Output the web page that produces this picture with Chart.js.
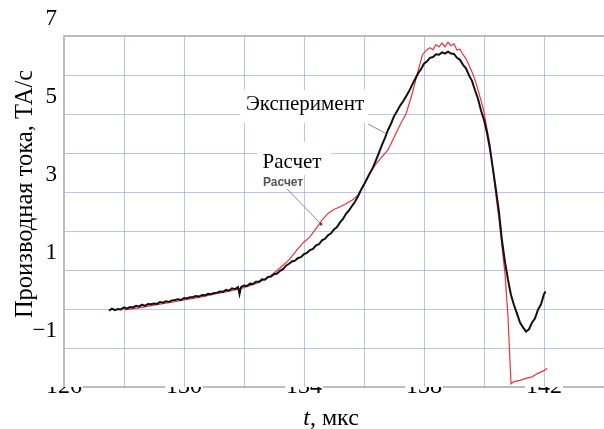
<!DOCTYPE html>
<html>
<head>
<meta charset="utf-8">
<script src="https://cdn.jsdelivr.net/npm/chart.js@4.4.1/dist/chart.umd.min.js"></script>
<style>
  html, body { margin: 0; padding: 0; background: #fff; }
  #wrap { width: 604px; height: 429px; }
</style>
</head>
<body>
<div id="wrap"><canvas id="graf"></canvas></div>
<script>
// Эксперимент (t, мкс / ТА/с)
const expTime = [127.5, 127.6, 127.7, 127.8, 127.9, 128.0, 128.1, 128.2, 128.3, 128.4,
    128.5, 128.6, 128.7, 128.8, 128.9, 129.0, 129.1, 129.2, 129.3, 129.4,
    129.5, 129.6, 129.7, 129.8, 129.9, 130.0, 130.1, 130.2, 130.3, 130.4,
    130.5, 130.6, 130.7, 130.8, 130.9, 131.0, 131.1, 131.2, 131.3, 131.4,
    131.5, 131.6, 131.7, 131.8, 131.85, 131.9, 132.0, 132.1, 132.2, 132.3,
    132.4, 132.5, 132.6, 132.7, 132.8, 132.9, 133.0, 133.1, 133.2, 133.3,
    133.4, 133.5, 133.6, 133.7, 133.8, 133.9, 134.0, 134.1, 134.2, 134.3,
    134.4, 134.5, 134.6, 134.7, 134.8, 134.9, 135.0, 135.1, 135.2, 135.3,
    135.4, 135.5, 135.6, 135.7, 135.8, 135.9, 136.0, 136.1, 136.2, 136.3,
    136.4, 136.5, 136.6, 136.7, 136.8, 136.9, 137.0, 137.1, 137.2, 137.3,
    137.4, 137.5, 137.6, 137.7, 137.8, 137.9, 138.0, 138.1, 138.2, 138.3,
    138.4, 138.5, 138.6, 138.7, 138.8, 138.9, 139.0, 139.1, 139.2, 139.3,
    139.4, 139.5, 139.6, 139.7, 139.8, 139.9, 140.0, 140.1, 140.2, 140.3,
    140.4, 140.5, 140.6, 140.7, 140.8, 140.9, 141.0, 141.1, 141.2, 141.3,
    141.4, 141.5, 141.6, 141.7, 141.8, 141.9, 142.0, 142.05];
const expValue = [-0.54, -0.49, -0.53, -0.50, -0.51, -0.46, -0.49, -0.45, -0.46, -0.42,
    -0.44, -0.39, -0.42, -0.37, -0.38, -0.36, -0.37, -0.32, -0.34, -0.30,
    -0.32, -0.28, -0.27, -0.25, -0.27, -0.22, -0.23, -0.20, -0.19, -0.17,
    -0.18, -0.14, -0.15, -0.11, -0.12, -0.09, -0.08, -0.05, -0.06, -0.01,
    -0.03, 0.03, 0.01, 0.06, -0.12, 0.06, 0.10, 0.09, 0.15, 0.14,
    0.20, 0.20, 0.26, 0.25, 0.32, 0.33, 0.39, 0.41, 0.48, 0.52,
    0.61, 0.66, 0.72, 0.74, 0.81, 0.83, 0.91, 0.94, 1.01, 1.04,
    1.13, 1.16, 1.26, 1.30, 1.39, 1.44, 1.54, 1.60, 1.72, 1.81,
    1.94, 2.03, 2.14, 2.25, 2.39, 2.55, 2.69, 2.84, 2.99, 3.13,
    3.32, 3.51, 3.71, 3.89, 4.09, 4.25, 4.44, 4.57, 4.71, 4.82,
    4.95, 5.08, 5.24, 5.39, 5.54, 5.65, 5.79, 5.85, 5.94, 5.96,
    6.03, 6.02, 6.08, 6.05, 6.10, 6.05, 6.04, 5.94, 5.89, 5.76,
    5.67, 5.49, 5.35, 5.11, 4.89, 4.59, 4.35, 4.02, 3.60, 3.08,
    2.55, 1.98, 1.25, 0.70, 0.25, -0.14, -0.40, -0.62, -0.85, -0.97,
    -1.08, -1.02, -0.85, -0.74, -0.52, -0.38, -0.12, -0.05];

// Расчет
const calcTime = [128.0, 128.5, 129.0, 129.5, 130.0, 130.5, 131.0, 131.5, 132.0, 132.5,
    132.9, 133.2, 133.5, 133.8, 134.0, 134.2, 134.4, 134.6, 134.8, 135.0,
    135.2, 135.4, 135.6, 135.8, 135.95, 136.2, 136.4, 136.6, 136.8, 137.0,
    137.2, 137.4, 137.6, 137.8, 137.95, 138.1, 138.2, 138.3, 138.4, 138.5,
    138.6, 138.7, 138.8, 138.9, 139.0, 139.1, 139.2, 139.3, 139.4, 139.5,
    139.6, 139.7, 139.8, 139.9, 140.0, 140.1, 140.2, 140.3, 140.4, 140.5,
    140.6, 140.7, 140.8, 140.9, 141.0, 141.2, 141.4, 141.6, 141.8, 142.0, 142.1];
const calcValue = [-0.52, -0.47, -0.40, -0.34, -0.27, -0.20, -0.12, -0.04, 0.05, 0.18,
    0.36, 0.55, 0.76, 1.05, 1.22, 1.35, 1.56, 1.78, 1.95, 2.05,
    2.12, 2.20, 2.29, 2.42, 2.63, 2.99, 3.22, 3.40, 3.58, 3.90,
    4.22, 4.50, 5.00, 5.60, 6.02, 6.15, 6.20, 6.15, 6.28, 6.22,
    6.32, 6.22, 6.34, 6.25, 6.30, 6.14, 6.16, 6.02, 5.92, 5.75,
    5.58, 5.38, 5.12, 4.85, 4.55, 4.12, 3.70, 3.05, 2.40, 1.80,
    1.10, 0.40, -0.70, -2.42, -2.36, -2.33, -2.28, -2.24, -2.15, -2.08, -2.02];

const xTickLabels = [126, 130, 134, 138, 142];
const yTickLabels = [-1, 1, 3, 5, 7];

const serif = 'Liberation Serif, Times New Roman, serif';
const gridBlue = 'rgba(150, 150, 235, 0.6)';
const borderGrey = '#bdbdbd';

function toPoints(xs, ys) {
    return xs.map((x, i) => ({ x: x, y: ys[i] }));
}

// нижняя ось с разрывами под подписями (рисуется до шкал)
const bottomAxis = {
    id: 'bottomAxis',
    beforeDraw(chart) {
        const ctx = chart.ctx;
        const area = chart.chartArea;
        const sx = chart.scales.x;
        ctx.save();
        ctx.font = '24px ' + serif;
        const gaps = xTickLabels.map((v) => {
            const px = sx.getPixelForValue(v);
            const w = ctx.measureText(String(v)).width;
            return [px - w / 2 - 1, px + w / 2 + 1];
        });
        ctx.strokeStyle = borderGrey;
        ctx.lineWidth = 2;
        ctx.beginPath();
        let x = area.left;
        gaps.forEach(([a, b]) => {
            if (a > x) {
                ctx.moveTo(x, area.bottom);
                ctx.lineTo(a, area.bottom);
            }
            x = Math.max(x, b);
        });
        ctx.moveTo(x, area.bottom);
        ctx.lineTo(area.right, area.bottom);
        ctx.stroke();
        ctx.restore();
    }
};

// подписи и выноски на поле графика
const annotations = {
    id: 'annotations',
    beforeDatasetsDraw(chart) {
        const ctx = chart.ctx;
        ctx.save();
        ctx.fillStyle = '#fff';
        ctx.fillRect(240, 90, 128, 33);
        ctx.fillRect(257, 142, 74, 33);

        ctx.strokeStyle = '#8a8a8a';
        ctx.lineWidth = 1;
        ctx.beginPath();
        ctx.moveTo(368, 124);
        ctx.lineTo(385, 133);
        ctx.moveTo(287, 189);
        ctx.lineTo(321, 224);
        ctx.stroke();
        ctx.fillStyle = '#444';
        ctx.beginPath();
        ctx.arc(321, 224, 1.5, 0, Math.PI * 2);
        ctx.fill();

        ctx.fillStyle = '#000';
        ctx.font = '21px ' + serif;
        ctx.textAlign = 'center';
        ctx.textBaseline = 'alphabetic';
        ctx.fillText('Эксперимент', 305, 110);
        ctx.fillText('Расчет', 292, 168);

        ctx.fillStyle = '#555';
        ctx.font = 'bold 12px Liberation Sans, Arial, sans-serif';
        ctx.textAlign = 'left';
        ctx.fillText('Расчет', 263, 186);
        ctx.restore();
    },
    afterDraw(chart) {
        const ctx = chart.ctx;
        ctx.save();
        ctx.fillStyle = '#000';
        ctx.textBaseline = 'alphabetic';

        // ось Y
        ctx.translate(32, 194);
        ctx.rotate(-Math.PI / 2);
        ctx.font = '24.5px ' + serif;
        ctx.textAlign = 'center';
        ctx.fillText('Производная тока, ТА/с', 0, 0);
        ctx.setTransform(1, 0, 0, 1, 0, 0);

        // ось X
        ctx.textAlign = 'left';
        ctx.font = 'italic 24px ' + serif;
        const tW = ctx.measureText('t').width;
        ctx.font = '24px ' + serif;
        const restW = ctx.measureText(', мкс').width;
        const x0 = 331 - (tW + restW) / 2;
        ctx.font = 'italic 24px ' + serif;
        ctx.fillText('t', x0, 425);
        ctx.font = '24px ' + serif;
        ctx.fillText(', мкс', x0 + tW, 425);
        ctx.restore();
    }
};

const ctx = document.getElementById('graf').getContext('2d');

new Chart(ctx, {
    type: 'line',
    data: {
        datasets: [
            {
                label: 'Эксперимент',
                data: toPoints(expTime, expValue),
                borderColor: '#111111',
                borderWidth: 2,
                pointRadius: 0,
                tension: 0
            },
            {
                label: 'Расчет',
                data: toPoints(calcTime, calcValue),
                borderColor: '#e8343c',
                borderWidth: 1.2,
                pointRadius: 0,
                tension: 0
            }
        ]
    },
    options: {
        responsive: true,
        maintainAspectRatio: false,
        animation: false,
        layout: {
            padding: { top: 36, right: 0, bottom: 0, left: 0 }
        },
        plugins: {
            legend: { display: false },
            tooltip: { enabled: false }
        },
        scales: {
            y: {
                min: -2.5,
                max: 6.5,
                afterFit: (scale) => { scale.width = 64; },
                ticks: {
                    stepSize: 1,
                    autoSkip: false,
                    padding: 7,
                    labelOffset: -17,
                    color: '#000',
                    font: { family: serif, size: 23 },
                    callback: (value) => {
                        const v = Math.round((value + 0.5) * 10) / 10;
                        if (!yTickLabels.includes(v)) return '';
                        return v < 0 ? '\u2212' + Math.abs(v) : String(v);
                    }
                },
                grid: {
                    drawTicks: false,
                    color: (c) => {
                        if (!c.tick) return gridBlue;
                        if (c.tick.value === 6.5) return borderGrey;
                        if (c.tick.value === -2.5) return 'rgba(0,0,0,0)';
                        return gridBlue;
                    },
                    lineWidth: (c) => c.tick && c.tick.value === 6.5 ? 2 : 1
                },
                border: { color: borderGrey, width: 2 }
            },
            x: {
                type: 'linear',
                min: 126,
                max: 144,
                afterFit: (scale) => { scale.height = 42; },
                ticks: {
                    stepSize: 2,
                    autoSkip: false,
                    maxRotation: 0,
                    padding: -15,
                    color: '#000',
                    font: { family: serif, size: 24 },
                    callback: (value) => xTickLabels.includes(value) ? String(value) : ''
                },
                grid: {
                    drawTicks: false,
                    color: (c) => c.tick && c.tick.value === 144 ? 'rgba(0,0,0,0)' : gridBlue,
                    lineWidth: 1
                },
                border: { display: false }
            }
        }
    },
    plugins: [bottomAxis, annotations]
});
</script>
</body>
</html>
